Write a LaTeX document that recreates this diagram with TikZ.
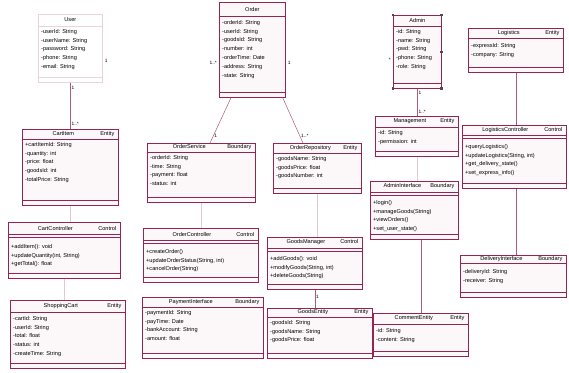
\documentclass[tikz,border=0pt]{standalone}
\usepackage{fontspec}
\setmainfont{Liberation Sans}
\usetikzlibrary{positioning, calc}

\definecolor{umlred}{RGB}{150,35,80}

\tikzset{
  classbox/.style={draw=umlred, line width=0.7pt, fill=umlred!3, inner sep=0pt},
  classline/.style={draw=umlred, line width=0.6pt},
  classtitle/.style={font=\fontsize{5.6}{6.5}\selectfont, inner sep=0pt},
  classitems/.style={font=\fontsize{5.6}{8.8}\selectfont, inner sep=0pt, align=left},
  assoc/.style={draw=umlred!75, line width=0.5pt},
  faint/.style={draw=umlred!25, line width=0.4pt},
  mult/.style={font=\fontsize{4.8}{5}\selectfont, inner sep=1pt},
}

% [style]{name}{north west}{width}{height}{title bar}{item gap}{title}{items}
\newcommand{\umlclass}[9][]{%
  \node[classbox, #1, anchor=north west, minimum width=#4, minimum height=#5] (#2) at (#3) {};
  \draw[classline, #1] ([yshift=-#6]#2.north west) -- ([yshift=-#6]#2.north east);
  \ifdim#7>6pt
    \draw[classline, #1] ([yshift=-#6-3pt]#2.north west) -- ([yshift=-#6-3pt]#2.north east);
  \fi
  \draw[classline, #1] ([yshift=5pt]#2.south west) -- ([yshift=5pt]#2.south east);
  \node[classtitle] at ([yshift=-#6/2]#2.north) {\hbox to \dimexpr#4-8pt\relax{#8}};
  \node[classitems, anchor=north west] at ([shift={(3pt,-#6-#7)}]#2.north west) {#9};
}

\begin{document}
\begin{tikzpicture}[x=1pt, y=-1pt, >=stealth]

  \useasboundingbox[fill=white] (0,0) rectangle (569,372);

  % left column
  \umlclass[draw=umlred!20, fill=white]{user}{38,14}{64pt}{68pt}{12pt}{3pt}{\hfill User\hfill}
    {-userId: String\\-userName: String\\-password: String\\-phone: String\\-email: String}
  \umlclass{cartitem}{22,129}{96pt}{76pt}{10pt}{3pt}{\hfill CartItem\hfill Entity}
    {+cartItemId: String\\-quantity: int\\-price: float\\-goodsId: int\\-totalPrice: String}
  \umlclass{cartctrl}{8,222}{112pt}{56pt}{12pt}{10pt}{\hfill CartController\hfill Control}
    {+addItem(): void\\+updateQuantity(int, String)\\+getTotal(): float}
  \umlclass{cartentity}{10,300}{115pt}{68pt}{12pt}{4pt}{\hfill ShoppingCart\hfill Entity}
    {-cartId: String\\-userId: String\\-total: float\\-status: int\\-createTime: String}

  % middle columns
  \umlclass{order}{219,2}{66pt}{95pt}{14pt}{4pt}{\hfill Order\hfill}
    {-orderId: String\\-userId: String\\-goodsId: String\\-number: int\\-orderTime: Date\\-address: String\\-state: String}
  \umlclass{service}{147,143}{108pt}{59pt}{9pt}{3pt}{\hfill OrderService\hfill Boundary}
    {-orderId: String\\-time: String\\-payment: float\\-status: int}
  \umlclass{repo}{273,143}{88pt}{50pt}{10pt}{3pt}{\hfill OrderRepository\hfill Entity}
    {-goodsName: String\\-goodsPrice: float\\-goodsNumber: int}
  \umlclass{orderctrl}{143,228}{115pt}{54pt}{12pt}{9pt}{\hfill OrderController\hfill Control}
    {+createOrder()\\+updateOrderStatus(String, int)\\+cancelOrder(String)}
  \umlclass{payment}{142,297}{121pt}{61pt}{10pt}{3pt}{\hfill PaymentInterface\hfill Boundary}
    {-paymentId: String\\-payTime: Date\\-bankAccount: String\\-amount: float}
  \umlclass{goodsmgr}{267,237}{95pt}{52pt}{11pt}{8pt}{\hfill GoodsManager\hfill Control}
    {+addGoods(): void\\+modifyGoods(String, int)\\+deleteGoods(String)}
  \umlclass{goodsentity}{267,308}{105pt}{50pt}{9pt}{3pt}{\hfill GoodsEntity\hfill Entity}
    {-goodsId: String\\-goodsName: String\\-goodsPrice: float}

  % right columns
  \umlclass{admin}{393,15}{48pt}{73pt}{11pt}{3pt}{\hfill Admin\hfill}
    {-id: String\\-name: String\\-pwd: String\\-phone: String\\-role: String}
  \umlclass{manage}{375,116}{83pt}{40pt}{11pt}{3pt}{\hfill Management\hfill Entity}
    {-id: String\\-permission: int}
  \umlclass{logistics}{468,28}{95pt}{44pt}{10pt}{5pt}{\hfill Logistics\hfill Entity}
    {-expressId: String\\-company: String}
  \umlclass{logctrl}{462,125}{104pt}{63pt}{10pt}{9pt}{\hfill LogisticsController\hfill Control}
    {+queryLogistics()\\+updateLogistics(String, int)\\+get\_delivery\_state()\\+set\_express\_info()}
  \umlclass{adminui}{370,181}{88pt}{58pt}{11pt}{8pt}{\hfill AdminInterface\hfill Boundary}
    {+login()\\+manageGoods(String)\\+viewOrders()\\+set\_user\_state()}
  \umlclass{delivery}{460,255}{106pt}{42pt}{8pt}{6pt}{\hfill DeliveryInterface\hfill Boundary}
    {-deliveryId: String\\-receiver: String}
  \umlclass{comment}{373,313}{95pt}{43pt}{11pt}{4pt}{\hfill CommentEntity\hfill Entity}
    {-id: String\\-content: String}

  % selection handles
  \foreach \a in {north west, north east, south west, south east, east}
    \fill[black!70] ([shift={(-1.3pt,-1.3pt)}]admin.\a) rectangle ([shift={(1.3pt,1.3pt)}]admin.\a);

  % associations
  \draw[assoc] (user.south) -- (cartitem.north)
    node[mult, pos=0.12, right] {1} node[mult, pos=0.88, right] {1..*};
  \draw[assoc] ([xshift=12pt]order.south west) -- ([xshift=63pt]service.north west)
    node[mult, pos=0.85, right] {1};
  \draw[assoc] ([xshift=-3pt]order.south east) -- ([xshift=30pt]repo.north west)
    node[mult, pos=0.85, right] {1..*};
  \draw[assoc] (admin.south) -- (admin.south |- manage.north)
    node[mult, pos=0.15, right] {1} node[mult, pos=0.85, right] {1..*};
  \draw[assoc] (goodsmgr.south) -- (goodsmgr.south |- goodsentity.north)
    node[mult, pos=0.4, right] {1};
  \draw[assoc] (logistics.south) -- (logistics.south |- logctrl.north);
  \draw[assoc] (logistics.south |- logctrl.south) -- (logistics.south |- delivery.north);
  \draw[assoc] (comment.north |- adminui.south) -- (comment.north);

  % faint links
  \draw[faint] (service.south) -- (service.south |- orderctrl.north);
  \draw[faint] (cartitem.south) -- (cartitem.south |- cartctrl.north);
  \draw[faint] (cartctrl.south) -- (cartctrl.south |- cartentity.north);
  \draw[faint] (repo.south) -- (repo.south |- goodsmgr.north);
  \draw[faint] (manage.south) -- (manage.south |- adminui.north);

  % loose multiplicities
  \node[mult, right=1pt of user.east, yshift=-12pt] (usermult) {1};
  \node[mult, left=1pt of order.west, yshift=-13pt] (ordermultl) {1..*};
  \node[mult, right=1pt of order.east, yshift=-13pt] (ordermultr) {1};
  \node[mult, left=1pt of admin.west, yshift=-8pt] (adminmult) {*};

\end{tikzpicture}
\end{document}
